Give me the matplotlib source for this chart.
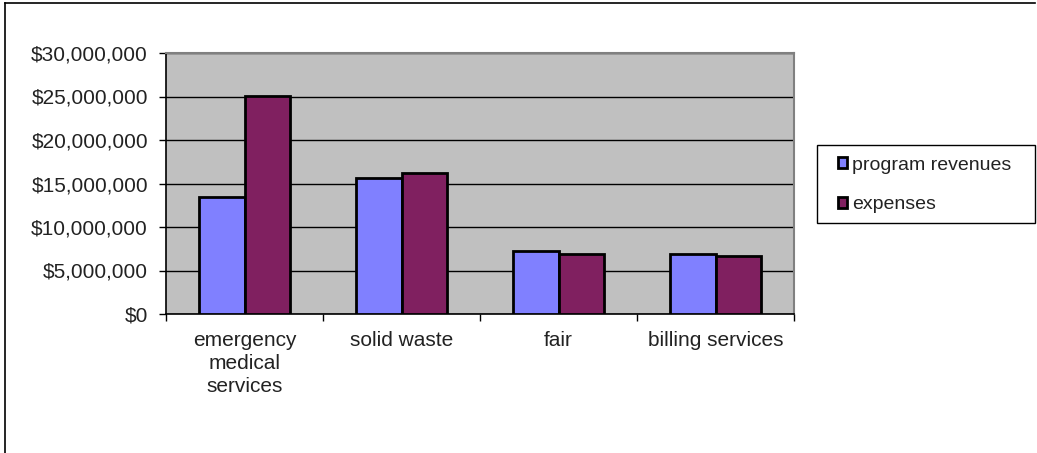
import matplotlib.pyplot as plt
import numpy as np
from matplotlib.ticker import FuncFormatter, MultipleLocator, FixedLocator
from matplotlib.lines import Line2D
from matplotlib.patches import Rectangle

plt.rcParams['font.family'] = ['Liberation Sans', 'DejaVu Sans']

categories = ['emergency\nmedical\nservices', 'solid waste', 'fair', 'billing services']
program_revenues = [13400000, 15600000, 7200000, 6900000]
expenses = [25050000, 16200000, 6900000, 6700000]

W, H = 1037, 453
fig = plt.figure(figsize=(W / 100, H / 100), dpi=100)
ax = fig.add_axes([166 / W, 1 - 314 / H, 628 / W, 261 / H])
ax.set_facecolor('#C0C0C0')

x = np.arange(len(categories))
w = 0.287
ax.bar(x - w / 2, program_revenues, w, color='#8080FF', edgecolor='black',
       linewidth=2, label='program revenues', zorder=3)
ax.bar(x + w / 2, expenses, w, color='#802060', edgecolor='black',
       linewidth=2, label='expenses', zorder=3)

ax.set_xlim(-0.5, len(categories) - 0.5)
ax.set_ylim(0, 30000000)
ax.yaxis.set_major_locator(MultipleLocator(5000000))
ax.yaxis.set_major_formatter(FuncFormatter(lambda v, p: '${:,.0f}'.format(v)))
ax.grid(axis='y', color='black', linewidth=1, zorder=1)

ax.set_xticks(x)
ax.set_xticklabels(categories, fontsize=15, color='#222222', linespacing=1.27)
ax.xaxis.set_minor_locator(FixedLocator(np.arange(-0.5, len(categories), 1.0)))
ax.tick_params(axis='x', which='major', length=0, pad=12)
ax.tick_params(axis='x', which='minor', length=5, width=1, direction='out')
ax.tick_params(axis='y', length=5, width=1, direction='out', pad=8,
               labelsize=15, labelcolor='#222222')

for s in ['left', 'bottom']:
    ax.spines[s].set_color('black')
    ax.spines[s].set_linewidth(1.2)
for s in ['top', 'right']:
    ax.spines[s].set_color('#808080')
    ax.spines[s].set_linewidth(1.5)

# legend box drawn separately, legend itself frameless
fig.add_artist(Rectangle((817 / W, 1 - 223 / H), 218 / W, 78 / H, transform=fig.transFigure,
                         facecolor='white', edgecolor='black', linewidth=1))
leg = fig.legend(loc='center left', bbox_to_anchor=(838 / W, 1 - 185 / H),
                 fontsize=14, frameon=False,
                 handlelength=0.48, handleheight=0.48, handletextpad=0.25,
                 labelspacing=1.15, borderpad=0, borderaxespad=0)
for t in leg.get_texts():
    t.set_color('#222222')

# chart border
fig.add_artist(Line2D([5 / W, 5 / W], [0, 1 - 3 / H], color='black', linewidth=1.2))
fig.add_artist(Line2D([5 / W, 1035 / W], [1 - 3 / H, 1 - 3 / H], color='black', linewidth=1.2))

fig.savefig('out.png', dpi=100)
